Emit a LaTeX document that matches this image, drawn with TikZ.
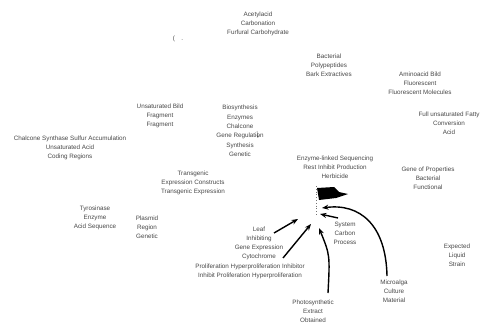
\documentclass[tikz,border=0pt]{standalone}
\usepackage{fontspec}
\setmainfont{Liberation Sans}
\usetikzlibrary{positioning, arrows.meta}

\tikzset{
	lbl/.style={align=center, inner sep=0pt, text=black!72, font=\fontsize{6.3}{9}\selectfont},
	link/.style={-{Stealth[length=6.5pt, width=5pt]}, line width=1.4pt, black},
}

\begin{document}
\begin{tikzpicture}[x=1pt, y=-1pt]
		\useasboundingbox (0, 0) rectangle (492, 329);
		% Upper labels
		\node[lbl] (acetyl) at (258, 24) {Acetylacid\\Carbonation\\Furfural Carbohydrate};
		\node[lbl] (paren) at (178, 39) {(\quad .};
		\node[lbl] (bacterial) at (329, 65) {Bacterial\\Polypeptides\\Bark Extractives};
		\node[lbl] (amino) at (420, 83) {Aminoacid Bild\\Fluorescent\\Fluorescent Molecules};
		\node[lbl] (fatty) at (449, 123) {Full unsaturated Fatty\\Conversion\\Acid};
		\node[lbl] (unsat) at (160, 116) {Unsaturated Bild\\Fragment\\Fragment};
		\node[lbl, font=\fontsize{6.3}{9.4}\selectfont] (biosyn) at (240, 131) {Biosynthesis\\Enzymes\\Chalcone\\Gene Regulation\\Synthesis\\Genetic};
		\node[lbl] (chalcone) at (70, 148) {Chalcone Synthase Sulfur Accumulation\\Unsaturated Acid\\Coding Regions};
		\node[lbl] (enzlink) at (335, 167) {Enzyme-linked Sequencing\\Rest Inhibit Production\\Herbicide};
		\node[lbl] (geneprop) at (428, 178) {Gene of Properties\\Bacterial\\Functional};
		\node[lbl] (transgenic) at (193, 183) {Transgenic\\Expression Constructs\\Transgenic Expression};
		% Lower labels
		\node[lbl] (tyro) at (95, 218) {Tyrosinase\\Enzyme\\Acid Sequence};
		\node[lbl] (plasmid) at (147, 227) {Plasmid\\Region\\Genetic};
		\node[lbl] (leaf) at (259, 243) {Leaf\\Inhibiting\\Gene Expression\\Cytochrome};
		\node[lbl] (prolif) at (250, 271) {Proliferation Hyperproliferation Inhibitor\\Inhibit Proliferation Hyperproliferation};
		\node[lbl] (system) at (345, 233) {System\\Carbon\\Process};
		\node[lbl] (expected) at (457, 255) {Expected\\Liquid\\Strain};
		\node[lbl] (microalga) at (394, 291) {Microalga\\Culture\\Material};
		\node[lbl] (photo) at (313, 311) {Photosynthetic\\Extract\\Obtained};
		
		% Small arrow inside the biosynthesis list
		\draw[-{Stealth[length=2.5pt]}, black!70] (257, 131) -- (258, 138);
		
		% Flag and its dotted pole
		\coordinate (hub) at (316, 216);
		\draw[dotted, black!55, line width=0.8pt] (316, 186) -- (hub);
		\fill[black] (317, 188) -- (334, 187) -- (339, 192) -- (348, 194) -- (336, 198) -- (319, 200) -- cycle;
		
		% Arrows into the flag
		\coordinate (leaftail) at (274, 233);
		\coordinate (leafhead) at (298, 219);
		\coordinate (cytotail) at (283, 258);
		\coordinate (cytohead) at (311, 224);
		\coordinate (phototail) at (328, 293);
		\coordinate (photohead) at (319, 228);
		\coordinate (systail) at (338, 218);
		\coordinate (syshead) at (320, 214);
		\coordinate (algatail) at (387, 276);
		\coordinate (algahead) at (322, 208);
		\draw[link] (leaftail) -- (leafhead);
		\draw[link] (cytotail) -- (cytohead);
		\draw[link] (phototail) .. controls (330, 255) .. (photohead);
		\draw[link] (systail) -- (syshead);
		\draw[link] (algatail) .. controls (386, 225) and (360, 203) .. (algahead);
	\end{tikzpicture}
\end{document}
